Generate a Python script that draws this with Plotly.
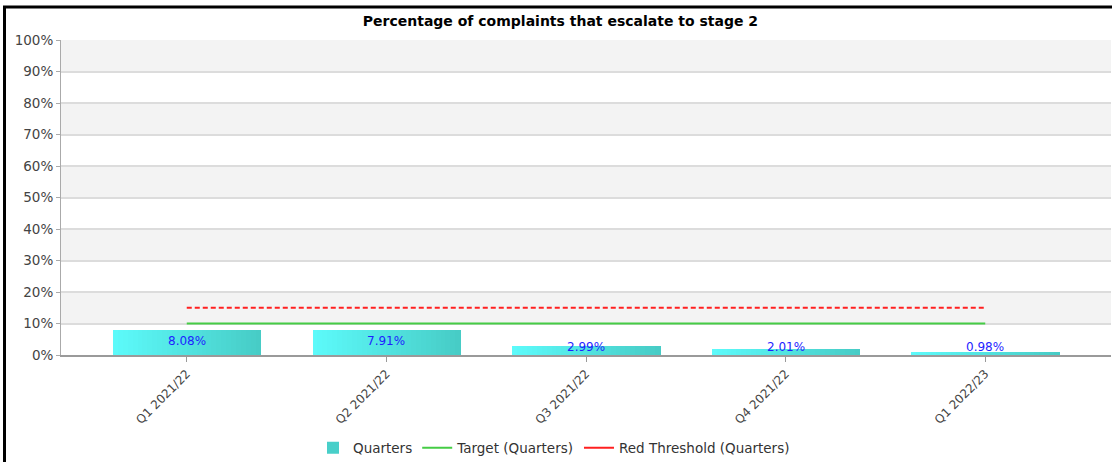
import plotly.graph_objects as go

# Quarterly escalation rates (percent of complaints reaching stage 2)
quarters = ["Q1 2021/22", "Q2 2021/22", "Q3 2021/22", "Q4 2021/22", "Q1 2022/23"]
escalation_pct = [8.08, 7.91, 2.99, 2.01, 0.98]
target_pct = [10, 10, 10, 10, 10]
red_threshold_pct = [15, 15, 15, 15, 15]
y_ticks = [0, 10, 20, 30, 40, 50, 60, 70, 80, 90, 100]
y_tick_labels = [f"{v}%" for v in y_ticks]

FONT = "DejaVu Sans"
W, H = 1112, 462
M_L, M_R, M_T, M_B = 61, 1, 40, 107

fig = go.Figure()

# Bars with a left-to-right cyan -> teal gradient, built from thin slices
bar_w = 0.74
n_slices = 30
c0 = (0x5C, 0xFA, 0xFA)
c1 = (0x47, 0xCC, 0xC6)
for i in range(n_slices):
    t = i / (n_slices - 1)
    col = "rgb(%d,%d,%d)" % tuple(round(a + (b - a) * t) for a, b in zip(c0, c1))
    fig.add_trace(go.Bar(
        x=quarters, y=escalation_pct,
        width=bar_w / n_slices * 1.15,
        offset=-bar_w / 2 + i * bar_w / n_slices,
        marker=dict(color=col, line=dict(width=0)),
        name="Quarters",
        showlegend=False,
        hoverinfo="skip" if i else None,
    ))

# Legend entry for the bars
fig.add_trace(go.Bar(
    x=[quarters[0]], y=[None], name="Quarters",
    marker=dict(color="#48CFC9", line=dict(width=0)),
    legendrank=1,
))

fig.add_trace(go.Scatter(
    x=quarters, y=target_pct, mode="lines", name="Target (Quarters)",
    line=dict(color="#45CC45", width=2), legendrank=2,
))

fig.add_trace(go.Scatter(
    x=quarters, y=red_threshold_pct, mode="lines", name="Red Threshold (Quarters)",
    line=dict(color="#FF2020", width=2, dash="5px,3px"), showlegend=False,
))
# Solid swatch for the threshold in the legend
fig.add_trace(go.Scatter(
    x=[quarters[0]], y=[None], mode="lines", name="Red Threshold (Quarters)",
    line=dict(color="#FF2020", width=2), legendrank=3,
))

# Value labels on the bars
for q, v in zip(quarters, escalation_pct):
    if v >= 5:
        fig.add_annotation(x=q, y=v, text=f"{v:.2f}%", showarrow=False,
                           yanchor="top", yshift=-2,
                           font=dict(family=FONT, size=12, color="#1E1EFF"))
    else:
        fig.add_annotation(x=q, y=0, text=f"{v:.2f}%", showarrow=False,
                           yanchor="bottom", yshift=-1,
                           font=dict(family=FONT, size=12, color="#1E1EFF"))

# Alternating shaded bands behind the grid
shapes = []
for lo in range(10, 100, 20):
    shapes.append(dict(type="rect", xref="paper", yref="y", x0=0, x1=1, y0=lo, y1=lo + 10,
                       fillcolor="#F3F3F3", line=dict(width=0), layer="below"))

# Frame lines around the chart panel
pw = W - M_L - M_R
ph = H - M_T - M_B
def px_x(p):
    return (p - M_L) / pw
def px_y(p):
    return (H - M_B - p) / ph
shapes.append(dict(type="line", xref="paper", yref="paper",
                   x0=px_x(3), x1=px_x(W + 2), y0=px_y(7), y1=px_y(7),
                   line=dict(color="#000000", width=3)))
shapes.append(dict(type="line", xref="paper", yref="paper",
                   x0=px_x(4.5), x1=px_x(4.5), y0=px_y(6), y1=px_y(H + 2),
                   line=dict(color="#000000", width=3)))

fig.update_layout(
    width=W, height=H,
    margin=dict(l=M_L, r=M_R, t=M_T, b=M_B, autoexpand=False),
    paper_bgcolor="#FFFFFF",
    plot_bgcolor="#FFFFFF",
    barmode="overlay",
    bargap=0,
    shapes=shapes,
    title=dict(text="<b>Percentage of complaints that escalate to stage 2</b>",
               x=0.504, xref="container", xanchor="center",
               y=1 - 21 / H, yref="container", yanchor="middle",
               font=dict(family=FONT, size=14, color="#000000")),
    font=dict(family=FONT, color="#444444"),
    showlegend=True,
    legend=dict(orientation="h", x=px_x(554), xanchor="center", y=px_y(448), yanchor="middle",
                font=dict(family=FONT, size=13.5, color="#333333"),
                bgcolor="rgba(0,0,0,0)", itemwidth=30, traceorder="normal"),
    xaxis=dict(
        type="category", range=[-0.63, 4.63],
        showgrid=False, zeroline=False,
        showline=True, linecolor="#9A9A9A", linewidth=2,
        ticks="outside", ticklen=5, tickcolor="#9A9A9A", tickwidth=1,
        tickangle=-45, tickfont=dict(family=FONT, size=12, color="#444444"),
    ),
    yaxis=dict(
        range=[0, 100], tickmode="array", tickvals=y_ticks, ticktext=y_tick_labels,
        showgrid=True, gridcolor="#DCDCDC", gridwidth=1.5,
        zeroline=False,
        showline=True, linecolor="#AAAAAA", linewidth=1,
        ticks="outside", ticklen=4, tickcolor="#AAAAAA",
        tickfont=dict(family=FONT, size=13.5, color="#444444"),
    ),
)

fig.write_html("out.html")
